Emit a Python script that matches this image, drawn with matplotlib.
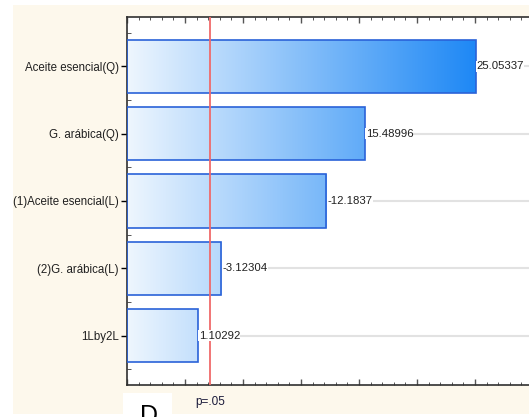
import numpy as np
import matplotlib
matplotlib.use("Agg")
import matplotlib.pyplot as plt
from matplotlib.colors import LinearSegmentedColormap
from matplotlib.patches import Rectangle
from matplotlib.ticker import MultipleLocator, FixedLocator

plt.rcParams['font.family'] = ['Liberation Sans', 'DejaVu Sans']

# standardized effects (Pareto chart)
labels = ['Aceite esencial(Q)', 'G. arábica(Q)', '(1)Aceite esencial(L)',
          '(2)G. arábica(L)', '1Lby2L']
effects = [25.05337, 15.48996, 12.1837, 3.12304, 1.10292]
value_text = ['25.05337', '15.48996', '-12.1837', '-3.12304', '1.10292']
p_limit = 2.16
xmin, xmax = -5, 30

fig = plt.figure(figsize=(5.29, 4.17), dpi=100)
fig.patch.set_facecolor('white')

# cream panel behind the plot
fig.add_artist(Rectangle((13 / 529, 3 / 417), 1.0, 409 / 417, transform=fig.transFigure,
                         facecolor='#fdf8ec', edgecolor='none', zorder=0))
# white box with the panel letter
fig.add_artist(Rectangle((123 / 529, 0), 49 / 529, 24 / 417, transform=fig.transFigure,
                         facecolor='white', edgecolor='none', zorder=1))
fig.text(149 / 529, 13 / 417, 'D', fontsize=18, ha='center', va='top', zorder=2)

ax = fig.add_axes([127 / 529, 32 / 417, 406 / 529, 368 / 417])
ax.set_facecolor('white')

ypos = np.arange(len(labels))
cmap = LinearSegmentedColormap.from_list('blues', ['#eef6fe', '#1e88f5'])
grad = np.linspace(0, 1, 256).reshape(1, -1)

bars = ax.barh(ypos, [e - xmin for e in effects], left=xmin, height=0.79,
               facecolor='none', edgecolor='#2a62d8', linewidth=1.2, zorder=3)
for b in bars:
    y0 = b.get_y()
    im = ax.imshow(grad, cmap=cmap, aspect='auto', extent=(xmin, 25.05337, y0, y0 + b.get_height()),
                   zorder=2, interpolation='bilinear')
    im.set_clip_path(b)

for y, e, t in zip(ypos, effects, value_text):
    ax.text(e + 0.08, y, t, ha='left', va='center', fontsize=8.2, color='#202020', zorder=6,
            bbox=dict(facecolor='white', edgecolor='none', pad=0.2))

ax.axvline(p_limit, color='#f06a6a', linewidth=1.3, zorder=5)

ax.set_xlim(xmin, xmax)
ax.set_ylim(len(labels) - 1 + 0.735, -0.735)
ax.yaxis.grid(True, color='#e2e2e2', linewidth=1.5, zorder=0)
ax.set_axisbelow(True)

ax.set_yticks(ypos)
ax.set_yticklabels(labels, fontsize=8.3, color='#202020')
ax.yaxis.set_minor_locator(FixedLocator(np.arange(-0.5, len(labels), 0.25)))
ax.tick_params(axis='y', which='major', direction='out', length=4, width=1, pad=2)
ax.tick_params(axis='y', which='minor', direction='in', length=3, width=0.7, color='#555555')

ax.xaxis.set_major_locator(MultipleLocator(5))
ax.xaxis.set_minor_locator(MultipleLocator(1))
ax.tick_params(axis='x', which='both', direction='in', top=True, bottom=True,
               labelbottom=False, color='#555555')
ax.tick_params(axis='x', which='major', length=4, width=1)
ax.tick_params(axis='x', which='minor', length=2, width=0.7)

for s in ax.spines.values():
    s.set_color('#303030')
    s.set_linewidth(1.2)

ax.text(p_limit, -0.045, 'p=.05', transform=ax.get_xaxis_transform(), ha='center', va='center',
        fontsize=8.5, color='#1a1a3a')

fig.savefig('out.png', dpi=100, facecolor=fig.get_facecolor())
